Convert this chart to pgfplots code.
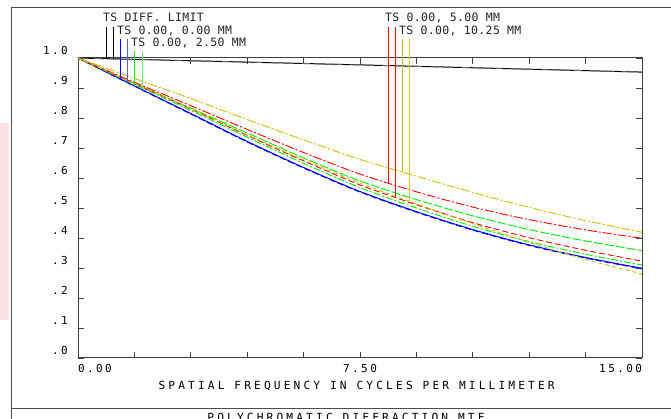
\documentclass[border=0pt]{standalone}
\usepackage{fontspec}
\usepackage{pgfplots}
\pgfplotsset{compat=1.18}
\newfontfamily\tickfont[LetterSpace=22]{DejaVu Sans Mono}
\newfontfamily\labfont[LetterSpace=28]{DejaVu Sans Mono}
\newfontfamily\legfont[LetterSpace=3]{DejaVu Sans Mono}
\definecolor{zblue}{RGB}{0,0,255}
\definecolor{zblueL}{RGB}{90,90,255}
\definecolor{zgreen}{RGB}{0,235,0}
\definecolor{zgreenL}{RGB}{100,245,100}
\definecolor{zred}{RGB}{255,0,0}
\definecolor{zyel}{RGB}{205,190,0}
\definecolor{pinkwm}{RGB}{252,226,228}
\begin{document}
\begin{tikzpicture}[x=1pt,y=1pt]
\useasboundingbox (0,0) rectangle (671,419);
\clip (0,0) rectangle (671,419);
\fill[pinkwm] (0,99) rectangle (9,296);
\draw[black!70, line width=0.9pt] (11,0) -- (11,412) -- (680,412);
\draw[black!70, line width=0.9pt] (11,11) -- (680,11);
\node[font=\labfont\fontsize{11.2}{13}\selectfont, anchor=north, inner sep=0pt] at (346,6.5) {POLYCHROMATIC DIFFRACTION MTF};
\begin{axis}[
  at={(78pt,61pt)}, anchor=south west,
  scale only axis, width=564pt, height=300pt,
  xmin=0, xmax=15, ymin=0, ymax=1,
  clip=false,
  axis line style={black!75, line width=1pt},
  tick style={black!75, line width=0.8pt},
  tick align=inside, major tick length=6pt,
  xtick={0,1.5,3,4.5,6,7.5,9,10.5,12,13.5,15},
  xticklabels={\rlap{0.00},{},{},{},{},7.50,{},{},{},{},\llap{15.00}},
  ytick={0,0.1,0.2,0.3,0.4,0.5,0.6,0.7,0.8,0.9,1.0},
  yticklabels={.0,.1,.2,.3,.4,.5,.6,.7,.8,.9,1.0},
  xticklabel style={font=\tickfont\fontsize{11}{13}\selectfont, anchor=north, inner sep=0pt, yshift=-6pt},
  yticklabel style={font=\tickfont\fontsize{11}{13}\selectfont, anchor=south east, inner sep=0pt, xshift=-10pt, yshift=3pt},
  xlabel={SPATIAL FREQUENCY IN CYCLES PER MILLIMETER},
  xlabel style={font=\labfont\fontsize{11.2}{13}\selectfont, anchor=north, inner sep=0pt, at={(axis description cs:0.494,0)}, yshift=-23pt},
  every axis plot/.append style={smooth, tension=0.5},
]
% diffraction limit T and S
\addplot[black, line width=1pt] coordinates {(0,1) (7.5,0.977) (15,0.953)};
\addplot[black!60, line width=0.8pt, dash pattern=on 8pt off 8pt] coordinates {(0,1) (7.5,0.977) (15,0.953)};
% 0.00 mm (blue)
\addplot[zblue, line width=1pt] coordinates {(0,1) (1.5,0.907) (3,0.815) (4.5,0.722) (6,0.635) (7.5,0.555) (9,0.488) (10.5,0.428) (12,0.377) (13.5,0.335) (15,0.299)};
\addplot[zblue, line width=0.9pt, dash pattern=on 6pt off 3pt] coordinates {(0,1) (1.5,0.906) (3,0.813) (4.5,0.72) (6,0.633) (7.5,0.553) (9,0.486) (10.5,0.426) (12,0.375) (13.5,0.333) (15,0.297)};
% 2.50 mm (green)
\addplot[zgreen, line width=0.9pt, dash pattern=on 9pt off 2pt] coordinates {(0,1) (1.5,0.915) (3,0.833) (4.5,0.75) (6,0.667) (7.5,0.59) (9,0.528) (10.5,0.474) (12,0.428) (13.5,0.39) (15,0.358)};
\addplot[zgreen, line width=0.9pt, dash pattern=on 7pt off 2pt on 2pt off 2pt] coordinates {(0,1) (1.5,0.912) (3,0.825) (4.5,0.736) (6,0.649) (7.5,0.568) (9,0.5) (10.5,0.439) (12,0.388) (13.5,0.346) (15,0.31)};
% 5.00 mm (red)
\addplot[zred, line width=0.9pt, dash pattern=on 9pt off 2pt on 2pt off 2pt] coordinates {(0,1) (1.5,0.919) (3,0.841) (4.5,0.762) (6,0.685) (7.5,0.613) (9,0.554) (10.5,0.503) (12,0.461) (13.5,0.427) (15,0.399)};
\addplot[zred, line width=0.9pt, dash pattern=on 6pt off 3pt] coordinates {(0,1) (1.5,0.915) (3,0.83) (4.5,0.742) (6,0.657) (7.5,0.577) (9,0.511) (10.5,0.451) (12,0.401) (13.5,0.359) (15,0.323)};
% 10.25 mm (yellow)
\addplot[zyel, line width=0.9pt, dash pattern=on 9pt off 2pt on 2pt off 2pt] coordinates {(0,1) (1.5,0.932) (3,0.865) (4.5,0.795) (6,0.727) (7.5,0.662) (9,0.606) (10.5,0.552) (12,0.502) (13.5,0.458) (15,0.419)};
\addplot[zyel, line width=0.9pt, dash pattern=on 4pt off 3pt] coordinates {(0,1) (1.5,0.915) (3,0.831) (4.5,0.744) (6,0.661) (7.5,0.583) (9,0.514) (10.5,0.448) (12,0.385) (13.5,0.329) (15,0.28)};
% leader lines
\addplot[black, line width=0.8pt, sharp plot] coordinates {(0.745,0.998) (0.745,1.104)};
\addplot[black, line width=0.8pt, sharp plot] coordinates {(0.95,0.997) (0.95,1.104)};
\addplot[zblue, line width=0.8pt, sharp plot] coordinates {(1.117,0.931) (1.117,1.063)};
\addplot[zblueL, line width=0.8pt, sharp plot] coordinates {(1.32,0.918) (1.32,1.063)};
\addplot[zgreen, line width=0.8pt, sharp plot] coordinates {(1.49,0.916) (1.49,1.024)};
\addplot[zgreenL, line width=0.8pt, sharp plot] coordinates {(1.70,0.900) (1.70,1.024)};
\addplot[zred, line width=0.8pt, sharp plot] coordinates {(8.25,0.584) (8.25,1.102)};
\addplot[zred, line width=0.8pt, sharp plot] coordinates {(8.45,0.535) (8.45,1.102)};
\addplot[zyel, line width=0.8pt, sharp plot] coordinates {(8.63,0.620) (8.63,1.063)};
\addplot[zyel!80, line width=0.8pt, sharp plot] coordinates {(8.82,0.522) (8.82,1.063)};
\end{axis}
\begin{scope}[every node/.style={font=\legfont\fontsize{11.5}{13}\selectfont, anchor=base west, inner sep=0pt, text=black!85}]
\node at (103,397.3) {TS DIFF. LIMIT};
\node at (117,384.7) {TS 0.00, 0.00 MM};
\node at (131,372.3) {TS 0.00, 2.50 MM};
\node at (385,397.7) {TS 0.00, 5.00 MM};
\node at (399,384) {TS 0.00, 10.25 MM};
\end{scope}
\end{tikzpicture}
\end{document}
